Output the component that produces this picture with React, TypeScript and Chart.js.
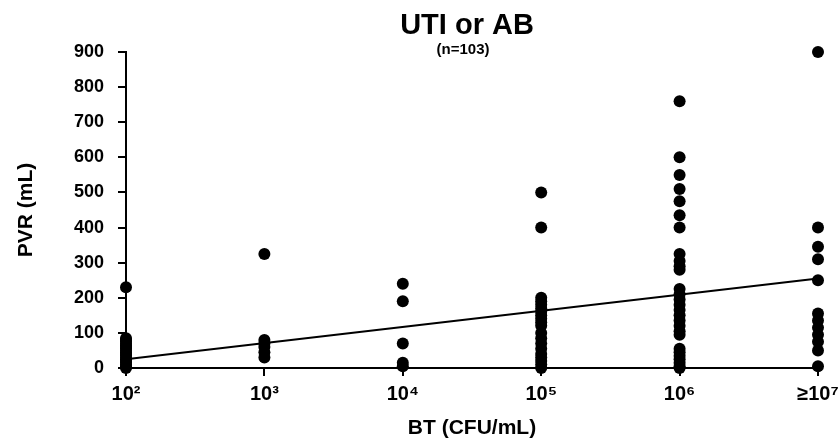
import React, { useEffect, useRef } from "react";
import { Chart, registerables } from "chart.js";

Chart.register(...registerables);

const categories = ["10²", "10³", "10⁴", "10⁵", "10⁶", "≥10⁷"];

const pvr1e2 = [230, 85, 80, 75, 70, 65, 60, 55, 50, 45, 40, 35, 30, 25, 20, 15, 10, 5, 0];
const pvr1e3 = [325, 80, 70, 60, 45, 30];
const pvr1e4 = [240, 190, 70, 15, 5];
const pvr1e5 = [500, 400, 200, 190, 180, 170, 160, 150, 140, 130, 120, 100, 85, 70, 55, 40, 30, 20, 10, 0];
const pvr1e6 = [760, 600, 550, 510, 475, 435, 400, 325, 305, 290, 280, 225, 210, 195, 180, 165, 150, 135, 120, 105, 95, 55, 45, 35, 25, 15, 5, 0];
const pvr1e7 = [900, 400, 345, 310, 250, 155, 135, 115, 95, 75, 50, 5];

const seriesByCategory = [pvr1e2, pvr1e3, pvr1e4, pvr1e5, pvr1e6, pvr1e7];

const trendStart = 25;
const trendEnd = 255;

const titleText = "UTI or AB";
const subtitleText = "(n=103)";
const yTitle = "PVR (mL)";
const xTitle = "BT (CFU/mL)";

const FONT = "'Liberation Sans', Arial, sans-serif";

export default function App() {
  const ref = useRef<HTMLCanvasElement | null>(null);

  useEffect(() => {
    document.body.style.margin = "0";
    const canvas = ref.current;
    if (!canvas) return;

    const points: { x: number; y: number }[] = [];
    seriesByCategory.forEach((arr, i) => arr.forEach((v) => points.push({ x: i, y: v })));

    const titlePlugin = {
      id: "customTitle",
      afterDraw(chart: any) {
        const { ctx, chartArea } = chart;
        const cx = (chartArea.left + chartArea.right) / 2;
        ctx.save();
        ctx.fillStyle = "#000";
        ctx.textAlign = "center";
        ctx.textBaseline = "alphabetic";
        ctx.font = `bold 29px ${FONT}`;
        ctx.fillText(titleText, cx - 5, 34);
        ctx.font = `bold 15px ${FONT}`;
        ctx.fillText(subtitleText, cx - 9, 54);
        ctx.restore();
      },
    };

    const chart = new Chart(canvas, {
      type: "scatter",
      data: {
        datasets: [
          {
            type: "scatter",
            data: points,
            pointRadius: 6,
            pointHoverRadius: 6,
            pointBackgroundColor: "#000",
            pointBorderWidth: 0,
            borderColor: "#000",
            clip: false,
          } as any,
          {
            type: "line",
            data: [
              { x: 0, y: trendStart },
              { x: categories.length - 1, y: trendEnd },
            ],
            borderColor: "#000",
            borderWidth: 2,
            pointRadius: 0,
            fill: false,
            clip: false,
          } as any,
        ],
      },
      options: {
        animation: false,
        responsive: false,
        maintainAspectRatio: false,
        layout: { padding: { top: 52, right: 20, left: 0, bottom: 0 } },
        plugins: {
          legend: { display: false },
          tooltip: { enabled: false },
          title: { display: false },
        },
        scales: {
          x: {
            type: "linear",
            min: 0,
            max: categories.length - 1,
            afterFit(scale: any) {
              scale.height = 75;
              scale.paddingLeft = 0;
              scale.paddingRight = 0;
            },
            ticks: {
              stepSize: 1,
              autoSkip: false,
              maxRotation: 0,
              color: "#000",
              padding: 6,
              font: { family: FONT, size: 20, weight: "bold" },
              callback: (v: any) => (Number.isInteger(v) ? categories[v] : ""),
            },
            grid: {
              drawOnChartArea: false,
              drawTicks: true,
              tickLength: 8,
              color: "#000",
              lineWidth: 2,
            },
            border: { display: true, color: "#000", width: 2 },
            title: {
              display: true,
              text: xTitle,
              color: "#000",
              font: { family: FONT, size: 21, weight: "bold" },
              padding: { top: 0, bottom: 2 },
            },
          },
          y: {
            min: 0,
            max: 900,
            afterFit(scale: any) {
              scale.width = 126;
              scale.paddingTop = 0;
              scale.paddingBottom = 0;
            },
            ticks: {
              stepSize: 100,
              color: "#000",
              padding: 14,
              font: { family: FONT, size: 18, weight: "bold" },
            },
            grid: {
              drawOnChartArea: false,
              drawTicks: true,
              tickLength: 8,
              color: "#000",
              lineWidth: 2,
            },
            border: { display: true, color: "#000", width: 2 },
            title: {
              display: true,
              text: yTitle,
              color: "#000",
              font: { family: FONT, size: 21, weight: "bold" },
              padding: { top: 14, bottom: 0 },
            },
          },
        },
      },
      plugins: [titlePlugin],
    } as any);

    return () => chart.destroy();
  }, []);

  return (
    <div style={{ width: 838, height: 443 }}>
      <canvas ref={ref} width={838} height={443} style={{ display: "block" }} />
    </div>
  );
}
